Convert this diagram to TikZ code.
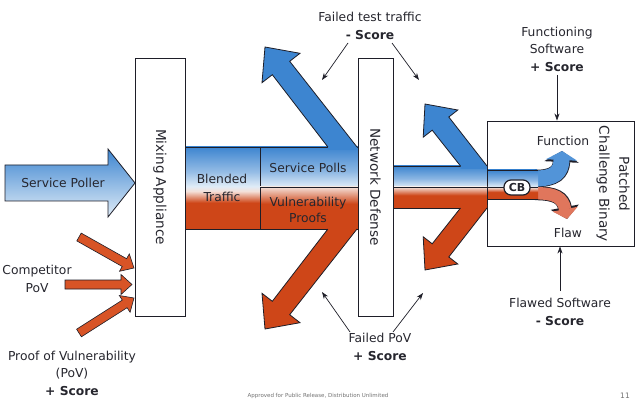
\documentclass[tikz,border=0pt]{standalone}
\usepackage{fontspec}
\setmainfont{DejaVu Sans}
\usetikzlibrary{arrows.meta,calc}
\definecolor{bluec}{RGB}{61,133,208}
\definecolor{bluem}{RGB}{82,148,216}
\definecolor{bluel}{RGB}{224,236,247}
\definecolor{redc}{RGB}{206,70,24}
\definecolor{redm}{RGB}{224,118,92}
\definecolor{redl}{RGB}{244,224,216}
\definecolor{orng}{RGB}{216,84,38}
\definecolor{edge}{RGB}{30,30,40}
\definecolor{txtc}{RGB}{38,38,46}
\pgfdeclareverticalshading{bandshade}{100bp}{color(0bp)=(redc); color(25bp)=(redc); color(41bp)=(redc); color(48bp)=(redl); color(51bp)=(bluel); color(60bp)=(bluec!55!white); color(75bp)=(bluec); color(100bp)=(bluec)}
\pgfdeclareverticalshading{bluepart}{100bp}{color(0bp)=(bluel); color(25bp)=(bluel); color(45bp)=(bluec!60!white); color(75bp)=(bluec); color(100bp)=(bluec)}
\pgfdeclareverticalshading{redpart}{100bp}{color(0bp)=(redc); color(25bp)=(redc); color(55bp)=(redc); color(75bp)=(redl); color(100bp)=(redl)}
\newcommand\txtfont{\fontsize{12.3}{17.5}\selectfont}
\newcommand\rotfont{\fontsize{13.6}{20}\selectfont}
\begin{document}
\begin{tikzpicture}[x=1pt,y=-1pt,
  txt/.style={font=\txtfont, text=txtc, align=center, inner sep=0pt},
  rot/.style={font=\rotfont, text=txtc, align=center, rotate=-90, inner sep=0pt},
  boxst/.style={draw=edge, line width=0.9pt, fill=white},
  ann/.style={-{Stealth[length=7pt,width=5pt]}, line width=0.7pt, draw=edge},
  outl/.style={draw=edge, line width=0.8pt, line join=miter},
  smallarrow/.style={fill=orng, draw=edge, line width=0.6pt, line join=miter}]
\fill[white] (0,0) rectangle (640,406);
\useasboundingbox (0,0) rectangle (640,406);

% Patched Challenge Binary box
\node[boxst, minimum width=147pt, minimum height=125pt] (pcb) at (560.5,183.5) {};
\node[rot] (pcbl) at (613,184) {Patched\\Challenge Binary};

% inner strips and curved arrows
\path[shading=bluepart] (487,170) rectangle (537,187);
\path[shading=redpart] (487,187) rectangle (537,199.5);
\coordinate (bs) at (535,178.5);
\coordinate (be) at (562,151);
\coordinate (rs) at (535,193.2);
\coordinate (re) at (567,219);
\draw[line width=17.4pt, edge, -{Triangle[length=11pt,width=34pt]}] (bs) .. controls (555,178.5) and (561,172) .. (be);
\draw[line width=14pt, edge, -{Triangle[length=12pt,width=28pt]}] (rs) .. controls (556,193.2) and (563,198) .. (re);
\draw[line width=16pt, bluem, -{Triangle[length=9pt,width=31pt]}] (bs) .. controls (555,178.5) and (561,172) .. (be);
\draw[line width=12.4pt, redm, -{Triangle[length=10pt,width=25pt]}] (rs) .. controls (556,193.2) and (563,198) .. (re);
\path[shading=bluepart] (487,170.4) rectangle (538,186.6);
\path[shading=redpart] (487,187.4) rectangle (538,199.1);
\draw[edge, line width=0.7pt] (487,170) -- (538,170);
\draw[edge, line width=0.7pt] (487,199.5) -- (538,199.5);
\draw[edge, line width=0.7pt] (487,187) -- (538,187);
\node[draw=edge, fill=white, line width=1.2pt, rounded corners=7pt, minimum width=26pt, minimum height=15pt, inner sep=1pt, font=\fontsize{11}{12}\selectfont\bfseries, text=txtc] (cb) at (517,187.5) {CB};
\node[txt] (func) at (563,141) {Function};
\node[txt] (flaw) at (568,233) {Flaw};

% Service Poller arrow
\path[shade, top color=bluec, bottom color=bluel, draw=edge, line width=0.8pt, line join=miter]
  (5,165) -- (108,165) -- (108,149) -- (135,183) -- (108,217) -- (108,201) -- (5,201) -- cycle;
\node[txt] (sp) at (63,183) {Service Poller};

% blended band
\path[shading=bandshade, draw=edge, line width=0.8pt] (185,147) rectangle (260,229);
\path[shading=bluepart, draw=edge, line width=0.8pt] (260,147) rectangle (358,187);
\path[shading=redpart, draw=edge, line width=0.8pt] (260,187) rectangle (358,229);
\path[shading=bluepart, draw=edge, line width=0.8pt] (393,166) rectangle (487,187);
\path[shading=redpart, draw=edge, line width=0.8pt] (393,187) rectangle (487,208);

% big arrows from network defense
\fill[bluec] (327.9,150) -- (327.9,147) -- (272.3,74.7) -- (262,82.7) -- (265,47) -- (300,53.3) -- (289.7,61.3) -- (357,147) -- (357,150) -- cycle;
\draw[outl] (327.9,147) -- (272.3,74.7) -- (262,82.7) -- (265,47) -- (300,53.3) -- (289.7,61.3) -- (357,147);
\fill[redc] (327.9,226) -- (327.9,229) -- (272.3,301.3) -- (262,293.3) -- (265,329) -- (300,322.7) -- (289.7,314.7) -- (357,229) -- (357,226) -- cycle;
\draw[outl] (327.9,229) -- (272.3,301.3) -- (262,293.3) -- (265,329) -- (300,322.7) -- (289.7,314.7) -- (357,229);
\fill[bluec] (460.5,169) -- (460.5,166) -- (432.2,130.2) -- (423.2,137.2) -- (425,104) -- (457.8,110) -- (448.8,117) -- (487,166) -- (487,169) -- cycle;
\draw[outl] (460.5,166) -- (432.2,130.2) -- (423.2,137.2) -- (425,104) -- (457.8,110) -- (448.8,117) -- (487,166);
\fill[redc] (460.5,205) -- (460.5,208) -- (432.2,243.8) -- (423.2,236.8) -- (425,270) -- (457.8,264) -- (448.8,257) -- (487,208) -- (487,205) -- cycle;
\draw[outl] (460.5,208) -- (432.2,243.8) -- (423.2,236.8) -- (425,270) -- (457.8,264) -- (448.8,257) -- (487,208);

\node[txt] (bt) at (222,188) {Blended\\Traffic};
\node[txt] (polls) at (308,168) {Service Polls};
\node[txt, font=\fontsize{12.3}{16}\selectfont] (vp) at (308,210) {Vulnerability\\Proofs};

% boxes
\node[boxst, rot, minimum width=258pt, minimum height=50pt] (mix) at (160,187) {Mixing Appliance};
\node[boxst, rot, minimum width=258pt, minimum height=35pt] (nd) at (375.5,187) {Network Defense};

% small red arrows
\path[smallarrow] (81.2,233.1) -- (126.6,258.7) -- (129.3,253.9) -- (134,268) -- (119.5,271.3) -- (122.2,266.5) -- (76.8,240.9) -- cycle;
\path[smallarrow] (65,280) -- (121,280) -- (121,274.5) -- (132,284.5) -- (121,294.5) -- (121,289) -- (65,289) -- cycle;
\path[smallarrow] (76.6,329.2) -- (122.3,300.1) -- (119.3,295.5) -- (134,298) -- (130.1,312.3) -- (127.1,307.7) -- (81.4,336.8) -- cycle;

% labels
\node[txt] (cpov) at (37,279) {Competitor\\PoV};
\node[txt] (pov) at (72,373) {Proof of Vulnerability\\(PoV)\\\textbf{+ Score}};
\node[txt] (ftt) at (370,26) {Failed test traffic\\\textbf{- Score}};
\node[txt] (fpov) at (380,347) {Failed PoV\\\textbf{+ Score}};
\node[txt] (fsw) at (557,49) {Functioning\\Software\\\textbf{+ Score}};
\node[txt] (flsw) at (560,312) {Flawed Software\\\textbf{- Score}};

% annotation arrows
\coordinate (ftta) at (348,43);
\coordinate (fttb) at (392,43);
\coordinate (fttl) at (322,80);
\coordinate (fttr) at (419,80);
\draw[ann] (ftta) -- (fttl);
\draw[ann] (fttb) -- (fttr);
\coordinate (fpova) at (350,332);
\coordinate (fpovb) at (393,332);
\coordinate (fpovl) at (322,292);
\coordinate (fpovr) at (423,293);
\draw[ann] (fpova) -- (fpovl);
\draw[ann] (fpovb) -- (fpovr);
\coordinate (fswa) at (557,75);
\draw[ann] (fswa) -- (pcb.north -| fswa);
\coordinate (flswa) at (560,291);
\draw[ann] (flswa) -- (pcb.south -| flswa);

% footer
\node[font=\fontsize{5.5}{7}\selectfont, text=black!55, inner sep=0pt] (foot) at (318,396) {Approved for Public Release, Distribution Unlimited};
\node[font=\fontsize{7.5}{9}\selectfont, text=black!55, inner sep=0pt] (pg) at (625,396) {11};
\end{tikzpicture}
\end{document}
